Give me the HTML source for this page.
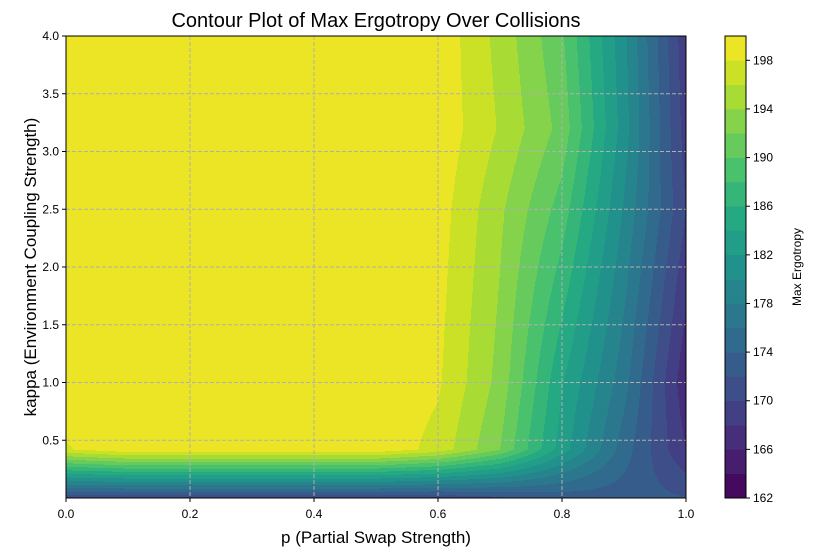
<!DOCTYPE html>
<html><head><meta charset="utf-8"><style>
body{margin:0;background:#fff;}
svg{display:block;font-family:"Liberation Sans","DejaVu Sans",sans-serif;}
</style></head><body>
<svg id="chart" width="814" height="556" viewBox="0 0 814 556" xmlns="http://www.w3.org/2000/svg">
<text x="376" y="27" font-size="20" text-anchor="middle" fill="#000">Contour Plot of Max Ergotropy Over Collisions</text>
<g id="plot"></g>
<g id="grid"></g>
<rect x="66" y="36" width="620" height="462" fill="none" stroke="#000" stroke-width="1"/>
<g id="xaxis"></g>
<g id="yaxis"></g>
<text x="376" y="543" font-size="17" text-anchor="middle">p (Partial Swap Strength)</text>
<text transform="translate(36,267) rotate(-90)" font-size="17" text-anchor="middle">kappa (Environment Coupling Strength)</text>
<g id="cbar"></g>
<text transform="translate(801,267) rotate(-90)" font-size="12" text-anchor="middle">Max Ergotropy</text>
</svg>
<script>
const pValues = [0, 0.1, 0.2, 0.3, 0.4, 0.5, 0.6, 0.7, 0.8, 0.9, 1.0];
const kappaValues = [0.01, 0.42, 1.0, 2.5, 3.2, 4.0];
const ergotropy = [
  [171, 171, 171, 171, 171, 171, 171, 172, 173, 173, 172],
  [197.8, 199.5, 199.5, 199.5, 199.5, 199.5, 197.3, 192, 183, 175, 168],
  [199.5, 199.5, 199.5, 199.5, 199.5, 199.5, 198.3, 193.3, 184.2, 176.8, 166.5],
  [199.5, 199.5, 199.5, 199.5, 199.5, 199.5, 199, 194.4, 189.1, 179.8, 170],
  [199.5, 199.5, 199.5, 199.5, 199.5, 199.5, 199.5, 195.8, 191.3, 181, 169],
  [199.5, 199.5, 199.5, 199.5, 199.5, 199.5, 199.5, 195.3, 190.3, 180.5, 168.5]
];
const xTicks = [0, 0.2, 0.4, 0.6, 0.8, 1.0];
const xTickLabels = ["0.0", "0.2", "0.4", "0.6", "0.8", "1.0"];
const yTicks = [0.5, 1.0, 1.5, 2.0, 2.5, 3.0, 3.5, 4.0];
const yTickLabels = ["0.5", "1.0", "1.5", "2.0", "2.5", "3.0", "3.5", "4.0"];
const cbTicks = [162, 166, 170, 174, 178, 182, 186, 190, 194, 198];
const levelMin = 162, levelMax = 200, levelStep = 2;

const NS = "http://www.w3.org/2000/svg";
const X0 = 66, X1 = 686, Y0 = 36, Y1 = 498;
const KMIN = 0.0, KMAX = 4.0;
const xs = p => X0 + (p - 0) / (1 - 0) * (X1 - X0);
const ys = k => Y1 - (k - KMIN) / (KMAX - KMIN) * (Y1 - Y0);
const xinv = x => (x - X0) / (X1 - X0);
const yinv = y => KMIN + (Y1 - y) / (Y1 - Y0) * (KMAX - KMIN);

const vir = [[0x44,0x01,0x54],[0x48,0x24,0x75],[0x41,0x44,0x87],[0x35,0x5f,0x8d],[0x2a,0x78,0x8e],[0x21,0x91,0x8c],[0x22,0xa8,0x84],[0x44,0xbf,0x70],[0x7a,0xd1,0x51],[0xbd,0xdf,0x26],[0xfd,0xe7,0x25]];
function viridis(t){t=Math.max(0,Math.min(1,t));const f=t*10;const i=Math.min(9,Math.floor(f));const r=f-i;
 const c=vir[i].map((v,j)=>Math.round(v+(vir[i+1][j]-v)*r));return `rgb(${c[0]},${c[1]},${c[2]})`;}
const nBands = Math.round((levelMax - levelMin) / levelStep);
const bandColor = i => viridis((i + 0.5) / nBands);

function idx(arr, v){for(let i=0;i<arr.length-2;i++){if(v<arr[i+1])return i;}return arr.length-2;}
function valueAt(p,k){
  k=Math.max(kappaValues[0],Math.min(kappaValues[kappaValues.length-1],k));
  const i=idx(pValues,p), j=idx(kappaValues,k);
  const tp=(p-pValues[i])/(pValues[i+1]-pValues[i]);
  const tk=(k-kappaValues[j])/(kappaValues[j+1]-kappaValues[j]);
  const a=ergotropy[j][i],b=ergotropy[j][i+1],c=ergotropy[j+1][i],d=ergotropy[j+1][i+1];
  return (a*(1-tp)+b*tp)*(1-tk)+(c*(1-tp)+d*tp)*tk;
}
function band(v){return Math.max(0,Math.min(nBands-1,Math.floor((v-levelMin)/levelStep)));}

const plot=document.getElementById('plot');
const step=1;
for(let y=Y0;y<Y1;y+=step){
  const k=yinv(y+step/2);
  let runStart=X0, runBand=band(valueAt(xinv(X0+0.5),k));
  for(let x=X0+1;x<=X1;x++){
    const b = x<X1 ? band(valueAt(xinv(x+0.5),k)) : -1;
    if(b!==runBand){
      const r=document.createElementNS(NS,'rect');
      
      
      r.setAttribute('x',runStart);r.setAttribute('y',y);
      r.setAttribute('width',x-runStart+0.3);r.setAttribute('height',step+0.3);
      r.setAttribute('fill',bandColor(runBand));
      plot.appendChild(r);
      runStart=x;runBand=b;
    }
  }
}

const grid=document.getElementById('grid'), xa=document.getElementById('xaxis'), ya=document.getElementById('yaxis');
function line(g,x1,y1,x2,y2,st,dash,name){const l=document.createElementNS(NS,'line');
 
 
 l.setAttribute('x1',x1);l.setAttribute('y1',y1);l.setAttribute('x2',x2);l.setAttribute('y2',y2);
 l.setAttribute('stroke',st);l.setAttribute('stroke-width',1);if(dash)l.setAttribute('stroke-dasharray',dash);g.appendChild(l);}
function text(g,x,y,s,anchor,size,name){const t=document.createElementNS(NS,'text');
 
 
 t.setAttribute('x',x);t.setAttribute('y',y);t.setAttribute('text-anchor',anchor);t.setAttribute('font-size',size);t.textContent=s;g.appendChild(t);}
xTicks.forEach((v,i)=>{const x=xs(v);
 if(i>0&&i<xTicks.length-1) line(grid,x,Y0,x,Y1,'#b0b0b0','4,2','x-grid-line');
 line(xa,x,Y1,x,Y1+4,'#000',null,'x-tick');
 text(xa,x,Y1+20,xTickLabels[i],'middle',12,'x-tick-label');});
yTicks.forEach((v,i)=>{const y=ys(v);
 if(i<yTicks.length-1) line(grid,X0,y,X1,y,'#b0b0b0','4,2','y-grid-line');
 line(ya,X0-4,y,X0,y,'#000',null,'y-tick');
 text(ya,X0-7,y+4,yTickLabels[i],'end',12,'y-tick-label');});

const cb=document.getElementById('cbar');
const CX=725, CW=21;
const cy=v=>Y1-(v-levelMin)/(levelMax-levelMin)*(Y1-Y0);
for(let i=0;i<nBands;i++){const r=document.createElementNS(NS,'rect');
 
 
 const a=cy(levelMin+(i+1)*levelStep), b=cy(levelMin+i*levelStep);
 r.setAttribute('x',CX);r.setAttribute('y',a);r.setAttribute('width',CW);r.setAttribute('height',b-a+0.3);
 r.setAttribute('fill',bandColor(i));cb.appendChild(r);}
const fr=document.createElementNS(NS,'rect');


fr.setAttribute('x',CX);fr.setAttribute('y',Y0);fr.setAttribute('width',CW);fr.setAttribute('height',Y1-Y0);
fr.setAttribute('fill','none');fr.setAttribute('stroke','#000');cb.appendChild(fr);
cbTicks.forEach(v=>{const y=cy(v);line(cb,CX+CW,y,CX+CW+4,y,'#000',null,'colorbar-tick');
 text(cb,CX+CW+7,y+4,String(v),'start',12,'colorbar-tick-label');});
</script>
</body></html>
